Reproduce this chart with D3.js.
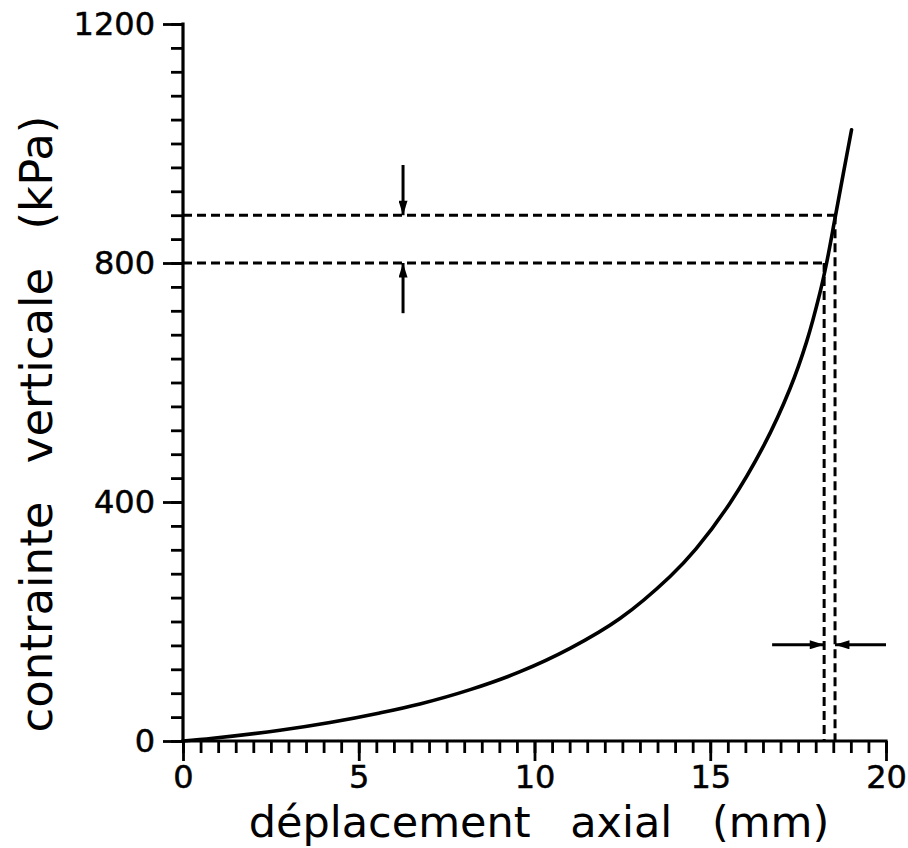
<!DOCTYPE html>
<html>
<head>
<meta charset="utf-8">
<script src="https://cdn.jsdelivr.net/npm/d3@7"></script>
<style>
  html, body { margin: 0; padding: 0; background: #fff; }
  svg { display: block; }
</style>
</head>
<body>
<svg id="chart" width="908" height="848"></svg>
<script>
// ---- Data ----
const displacement = [0, 0.85, 2.76, 4.18, 5.6, 6.74, 8.17, 9.59, 11.01, 12.43, 13.85, 14.6, 15.56, 16.51, 17.27, 17.74, 18.12, 18.31, 18.55, 18.78, 19.02];
const stress       = [0, 4.6, 18, 31, 47, 62, 86, 116, 155, 205, 275, 322, 398, 493, 590, 668, 750, 800, 875, 948, 1023];

const xTickValues = [0, 5, 10, 15, 20];
const yTickValues = [0, 400, 800, 1200];
const xMinorStep = 0.5;
const yMinorStep = 40;

const refStress = [800, 880];        // horizontal dashed levels (kPa)
const refDisp   = [18.24, 18.55];    // corresponding displacements (mm)

// arrows: [x1, y1, x2, y2] in data units
const arrowsData = [
  [6.26, 964, 6.26, 880],
  [6.26, 716, 6.26, 800],
  [16.76, 161, 18.24, 161],
  [20.0, 161, 18.55, 161]
];

const xLabel = "déplacement axial (mm)";
const yLabel = "contrainte verticale (kPa)";

// ---- Drawing ----
const svg = d3.select("#chart");
const x = d3.scaleLinear().domain([0, 20]).range([183, 886]);
const y = d3.scaleLinear().domain([0, 1200]).range([741, 24]);

const fontFam = "'DejaVu Sans', sans-serif";

svg.append("defs").append("marker")
  .attr("id", "ah")
  .attr("viewBox", "0 0 16 10")
  .attr("refX", 16).attr("refY", 5)
  .attr("markerWidth", 16).attr("markerHeight", 9)
  .attr("markerUnits", "userSpaceOnUse")
  .attr("orient", "auto")
  .append("path").attr("d", "M0,0 L16,5 L0,10 Z").attr("fill", "#000");

// minor ticks
const xMinor = d3.range(0, 20 + 1e-9, xMinorStep);
const yMinor = d3.range(0, 1200 + 1e-9, yMinorStep);

const gx = svg.append("g").attr("transform", `translate(0,${y(0)})`);
gx.call(d3.axisBottom(x).tickValues(xMinor).tickSize(12).tickFormat(""));
gx.select(".domain").remove();
const gx2 = svg.append("g").attr("transform", `translate(0,${y(0)})`);
gx2.call(d3.axisBottom(x).tickValues(xTickValues).tickSize(20).tickPadding(4).tickFormat(d3.format("d")));
gx2.select(".domain").remove();

const gy = svg.append("g").attr("transform", `translate(${x(0)},0)`);
gy.call(d3.axisLeft(y).tickValues(yMinor).tickSize(12).tickFormat(""));
gy.select(".domain").remove();
const gy2 = svg.append("g").attr("transform", `translate(${x(0)},0)`);
gy2.call(d3.axisLeft(y).tickValues(yTickValues).tickSize(20).tickPadding(8).tickFormat(d3.format("d")));
gy2.select(".domain").remove();

svg.selectAll(".tick line").attr("stroke", "#000").attr("stroke-width", 2.8);
svg.selectAll(".tick text").attr("font-family", fontFam).attr("font-size", 32).attr("fill", "#000")
  .attr("stroke", "#000").attr("stroke-width", 0.5);

// axis lines
svg.append("line").attr("x1", x(0)).attr("x2", x(20)).attr("y1", y(0)).attr("y2", y(0))
  .attr("stroke", "#000").attr("stroke-width", 3.2).attr("stroke-linecap", "square");
svg.append("line").attr("x1", x(0)).attr("x2", x(0)).attr("y1", y(0)).attr("y2", y(1200))
  .attr("stroke", "#000").attr("stroke-width", 3.2).attr("stroke-linecap", "square");

// dashed reference lines
refStress.forEach((s, i) => {
  svg.append("line").attr("x1", x(0)).attr("x2", x(refDisp[i])).attr("y1", y(s)).attr("y2", y(s))
    .attr("stroke", "#000").attr("stroke-width", 3).attr("stroke-dasharray", "9,5");
  svg.append("line").attr("x1", x(refDisp[i])).attr("x2", x(refDisp[i])).attr("y1", y(s)).attr("y2", y(0))
    .attr("stroke", "#000").attr("stroke-width", 3).attr("stroke-dasharray", "9,5");
});

// curve
const line = d3.line().x(d => x(d[0])).y(d => y(d[1])).curve(d3.curveCatmullRom.alpha(0.5));
svg.append("path").datum(displacement.map((d, i) => [d, stress[i]]))
  .attr("d", line).attr("fill", "none").attr("stroke", "#000").attr("stroke-width", 3.6)
  .attr("stroke-linecap", "round");

// arrows
arrowsData.forEach(a => {
  svg.append("line").attr("x1", x(a[0])).attr("y1", y(a[1])).attr("x2", x(a[2])).attr("y2", y(a[3]))
    .attr("stroke", "#000").attr("stroke-width", 3).attr("marker-end", "url(#ah)");
});

// titles
svg.append("text").text(xLabel)
  .attr("x", 539).attr("y", 837).attr("text-anchor", "middle")
  .attr("font-family", fontFam).attr("font-size", 43).attr("fill", "#000")
  .style("word-spacing", "26px");

svg.append("text").text(yLabel)
  .attr("transform", "translate(52,424) rotate(-90)").attr("text-anchor", "middle")
  .attr("font-family", fontFam).attr("font-size", 45).attr("fill", "#000")
  .style("word-spacing", "24px");
</script>
</body>
</html>
